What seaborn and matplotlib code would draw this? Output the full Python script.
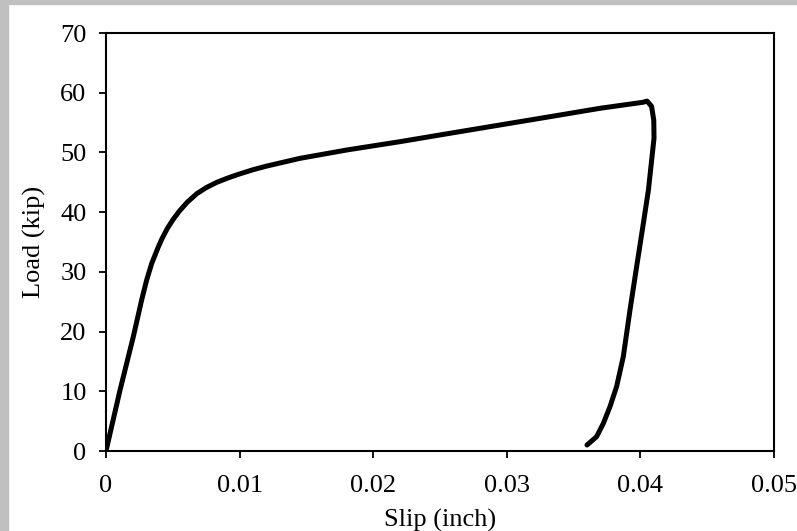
import pandas as pd
import matplotlib
matplotlib.use("Agg")
from matplotlib import pyplot as plt
from matplotlib.patches import Rectangle
import seaborn as sns

# load-slip curve
slip = [0.0, 0.00105, 0.00204, 0.00267, 0.00304, 0.00342, 0.00392, 0.0042,
        0.0046, 0.0050, 0.0055, 0.0061, 0.0068, 0.0075, 0.0083, 0.0091,
        0.0100, 0.0110, 0.0120, 0.0145, 0.0180, 0.0220, 0.0260, 0.0295,
        0.0330, 0.0370, 0.0402, 0.0405, 0.04084, 0.0410, 0.04102, 0.0406,
        0.04022, 0.03972, 0.03922, 0.03872, 0.03822, 0.03772, 0.03722, 0.03672,
        0.0360]
load = [0.0, 10.2, 19.1, 25.3, 28.6, 31.4, 34.2, 35.6,
        37.3, 38.7, 40.2, 41.7, 43.1, 44.1, 45.0, 45.7,
        46.4, 47.1, 47.7, 49.0, 50.4, 51.8, 53.3, 54.6,
        55.9, 57.4, 58.4, 58.6, 57.7, 55.4, 52.4, 43.7,
        38.1, 30.9, 23.6, 15.8, 10.8, 7.4, 4.6, 2.4,
        1.0]
x_ticks = [0, 0.01, 0.02, 0.03, 0.04, 0.05]
x_labels = ["0", "0.01", "0.02", "0.03", "0.04", "0.05"]
y_ticks = [0, 10, 20, 30, 40, 50, 60, 70]

df = pd.DataFrame({"slip": slip, "load": load})

sns.set_style("white")
plt.rcParams['font.family'] = ['Liberation Serif', 'DejaVu Serif']
plt.rcParams['text.color'] = 'black'
plt.rcParams['axes.labelcolor'] = 'black'
plt.rcParams['xtick.color'] = 'black'
plt.rcParams['ytick.color'] = 'black'

fig = plt.figure(figsize=(7.97, 5.31), dpi=100)
# grey frame strips on top and left
fig.patches.append(Rectangle((0, 1 - 4 / 531), 1, 4 / 531, transform=fig.transFigure,
                             color='#c0c0c0', zorder=0))
fig.patches.append(Rectangle((0, 0), 8 / 797, 1, transform=fig.transFigure,
                             color='#c0c0c0', zorder=0))
ax = fig.add_axes([106 / 797, 1 - 451 / 531, 668 / 797, 418 / 531])

sns.lineplot(data=df, x="slip", y="load", sort=False, estimator=None,
             color='black', linewidth=3.6, ax=ax)
ax.lines[0].set_solid_capstyle('round')
ax.lines[0].set_solid_joinstyle('round')

ax.set_xlim(0, 0.05)
ax.set_ylim(0, 70)
ax.set_xticks(x_ticks)
ax.set_xticklabels(x_labels)
ax.set_yticks(y_ticks)
ax.set_xlabel("Slip (inch)", fontsize=19, labelpad=9)
ax.set_ylabel("Load (kip)", fontsize=19, labelpad=10)
ax.tick_params(axis='both', which='major', labelsize=19, direction='out',
               length=5, width=1.3, bottom=True, left=True)
ax.tick_params(axis='x', pad=12)
ax.tick_params(axis='y', pad=9)
for s in ax.spines.values():
    s.set_color('black')
    s.set_linewidth(1.5)

fig.savefig("out.png", dpi=100)
